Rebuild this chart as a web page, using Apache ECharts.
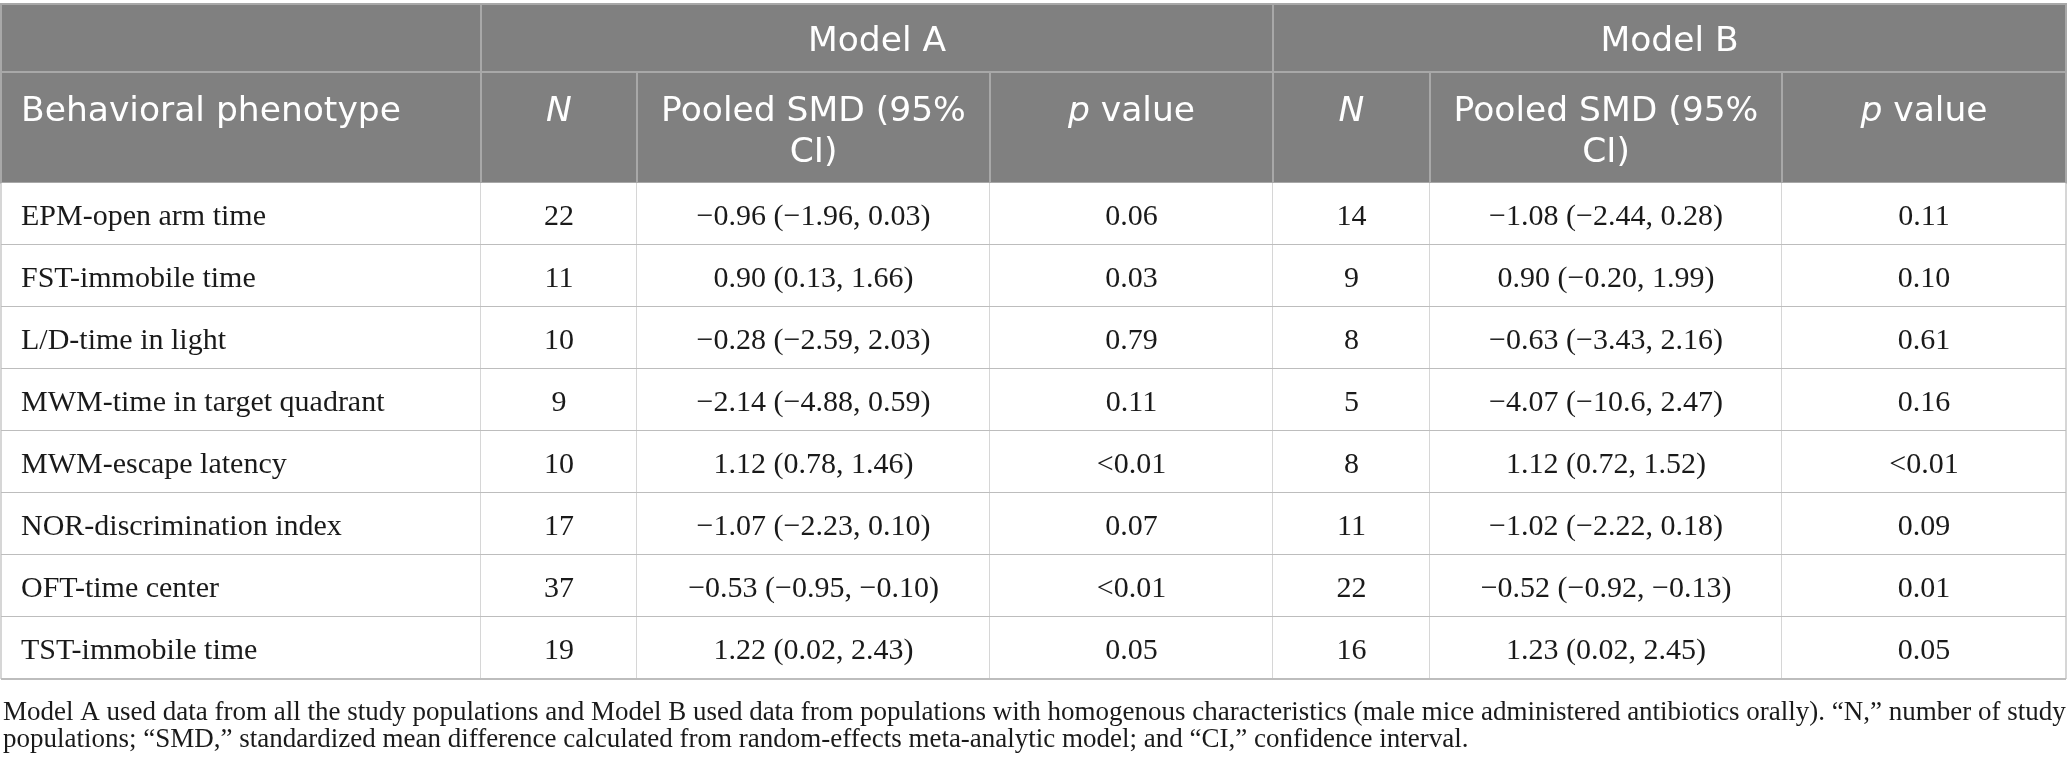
<!DOCTYPE html>
<html>
<head>
<meta charset="utf-8">
<title>Behavioral phenotype table</title>
<script src="https://cdn.jsdelivr.net/npm/echarts@6/dist/echarts.min.js"></script>
<style>
html, body { margin: 0; padding: 0; background: #fff; }
#main { width: 2067px; height: 768px; }
</style>
</head>
<body>
<div id="main"></div>
<script>
/**
 * 表格数据
 */
var phenotypes = ['EPM-open arm time', 'FST-immobile time', 'L/D-time in light', 'MWM-time in target quadrant',
	'MWM-escape latency', 'NOR-discrimination index', 'OFT-time center', 'TST-immobile time'];
// Model A
var nA = [22, 11, 10, 9, 10, 17, 37, 19];
var smdA = ['−0.96 (−1.96, 0.03)', '0.90 (0.13, 1.66)', '−0.28 (−2.59, 2.03)', '−2.14 (−4.88, 0.59)',
	'1.12 (0.78, 1.46)', '−1.07 (−2.23, 0.10)', '−0.53 (−0.95, −0.10)', '1.22 (0.02, 2.43)'];
var pA = ['0.06', '0.03', '0.79', '0.11', '<0.01', '0.07', '<0.01', '0.05'];
// Model B
var nB = [14, 9, 8, 5, 8, 11, 22, 16];
var smdB = ['−1.08 (−2.44, 0.28)', '0.90 (−0.20, 1.99)', '−0.63 (−3.43, 2.16)', '−4.07 (−10.6, 2.47)',
	'1.12 (0.72, 1.52)', '−1.02 (−2.22, 0.18)', '−0.52 (−0.92, −0.13)', '1.23 (0.02, 2.45)'];
var pB = ['0.11', '0.10', '0.61', '0.16', '<0.01', '0.09', '0.01', '0.05'];
// 表头 ({i|...} = 斜体)
var modelNames = ['Model A', 'Model B'];
var columnTitles = ['Behavioral phenotype', '{i|N}', 'Pooled SMD (95%\nCI)', '{i|p} value',
	'{i|N}', 'Pooled SMD (95%\nCI)', '{i|p} value'];
// 表注
var footnoteLines = [
	'Model A used data from all the study populations and Model B used data from populations with homogenous characteristics (male mice administered antibiotics orally). “N,” number of study',
	'populations; “SMD,” standardized mean difference calculated from random-effects meta-analytic model; and “CI,” confidence interval.'
];

/**
 * 布局 (像素单位, 用作坐标轴刻度)
 */
var colEdges = [1, 481, 637, 990, 1273, 1430, 1782, 2066];
var headEdges = [4, 72, 183];
var bodyRowHeight = 62;
var footEdges = [679, 759];

var rowEdges = headEdges.slice();
for (var r = 0; r < phenotypes.length; r++) {
	rowEdges.push(headEdges[2] + bodyRowHeight * (r + 1));
}

var headFont = 'DejaVu Sans';
var headSize = 34.5;
var bodyFont = '"Liberation Serif", "Times New Roman", serif';

/**
 * 组装单元格
 */
var cellData = [];
var cellInfo = [];
function addCell(c0, c1, r0, r1, text, kind, align) {
	cellData.push([colEdges[c0], r0, colEdges[c1], r1]);
	cellInfo.push({ text: text, kind: kind, align: align, first: c0 === 0 });
}
// 表头第一行
addCell(0, 1, rowEdges[0], rowEdges[1], '', 'group', 'center');
addCell(1, 4, rowEdges[0], rowEdges[1], modelNames[0], 'group', 'center');
addCell(4, 7, rowEdges[0], rowEdges[1], modelNames[1], 'group', 'center');
// 表头第二行
for (var c = 0; c < columnTitles.length; c++) {
	addCell(c, c + 1, rowEdges[1], rowEdges[2], columnTitles[c], 'title', c === 0 ? 'left' : 'center');
}
// 数据行
for (var i = 0; i < phenotypes.length; i++) {
	var row = [phenotypes[i], String(nA[i]), smdA[i], pA[i], String(nB[i]), smdB[i], pB[i]];
	for (var k = 0; k < row.length; k++) {
		addCell(k, k + 1, rowEdges[i + 2], rowEdges[i + 3], row[k], 'body', k === 0 ? 'left' : 'center');
	}
}
// 表注
addCell(0, 7, footEdges[0], footEdges[1], footnoteLines.join('\n'), 'note', 'left');

/**
 * 绘制单元格
 */
function renderCell(params, api) {
	var info = cellInfo[params.dataIndex];
	var tl = api.coord([api.value(0), api.value(1)]);
	var br = api.coord([api.value(2), api.value(3)]);
	var x = tl[0], y = tl[1], w = br[0] - tl[0], h = br[1] - tl[1];
	var tx = info.align === 'left' ? x + 20 : x + w / 2;
	var children = [];

	if (info.kind === 'group' || info.kind === 'title') {
		children.push({
			type: 'rect',
			shape: { x: x, y: y, width: w, height: h },
			style: { fill: '#808080', stroke: '#a8a8a8', lineWidth: 2 }
		});
		var top = info.kind === 'title';
		children.push({
			type: 'text',
			x: tx,
			y: top ? y + 19.5 : y + h / 2 + 4,
			style: {
				text: info.text,
				fill: '#ffffff',
				fontFamily: headFont,
				fontSize: headSize,
				lineHeight: 41,
				align: info.align,
				verticalAlign: top ? 'top' : 'middle',
				rich: {
					i: { fontStyle: 'italic', fontFamily: headFont, fontSize: headSize, lineHeight: 41, fill: '#ffffff' }
				}
			}
		});
	} else if (info.kind === 'body') {
		children.push({
			type: 'rect',
			shape: { x: x, y: y, width: w, height: h },
			style: { fill: '#ffffff' }
		});
		// 竖线
		children.push({
			type: 'line',
			shape: { x1: x + w, y1: y, x2: x + w, y2: y + h },
			style: { stroke: '#c8c8c8', lineWidth: 1.5 }
		});
		if (info.first) {
			children.push({
				type: 'line',
				shape: { x1: x, y1: y, x2: x, y2: y + h },
				style: { stroke: '#c8c8c8', lineWidth: 1.5 }
			});
		}
		// 横线
		children.push({
			type: 'line',
			shape: { x1: x, y1: y + h, x2: x + w, y2: y + h },
			style: { stroke: '#bdbdbd', lineWidth: 2 }
		});
		children.push({
			type: 'text',
			x: tx,
			y: y + h / 2 + 3.5,
			style: {
				text: info.text,
				fill: '#1a1a1a',
				fontFamily: bodyFont,
				fontSize: 30,
				align: info.align,
				verticalAlign: 'middle'
			}
		});
	} else {
		children.push({
			type: 'text',
			x: x + 2,
			y: y + h / 2 + 7,
			style: {
				text: info.text,
				fill: '#1a1a1a',
				fontFamily: bodyFont,
				fontSize: 27,
				lineHeight: 27,
				align: 'left',
				verticalAlign: 'middle'
			}
		});
	}
	return { type: 'group', children: children };
}

var myChart = echarts.init(document.getElementById('main'));
var option = {
	animation: false,
	backgroundColor: '#ffffff',
	grid: { left: 0, right: 0, top: 0, bottom: 0 },
	xAxis: { type: 'value', min: 0, max: 2067, show: false },
	yAxis: { type: 'value', min: 0, max: 768, inverse: true, show: false },
	series: [{
		type: 'custom',
		coordinateSystem: 'cartesian2d',
		renderItem: renderCell,
		encode: { x: [0, 2], y: [1, 3] },
		data: cellData,
		silent: true
	}]
};
myChart.setOption(option);
</script>
</body>
</html>
